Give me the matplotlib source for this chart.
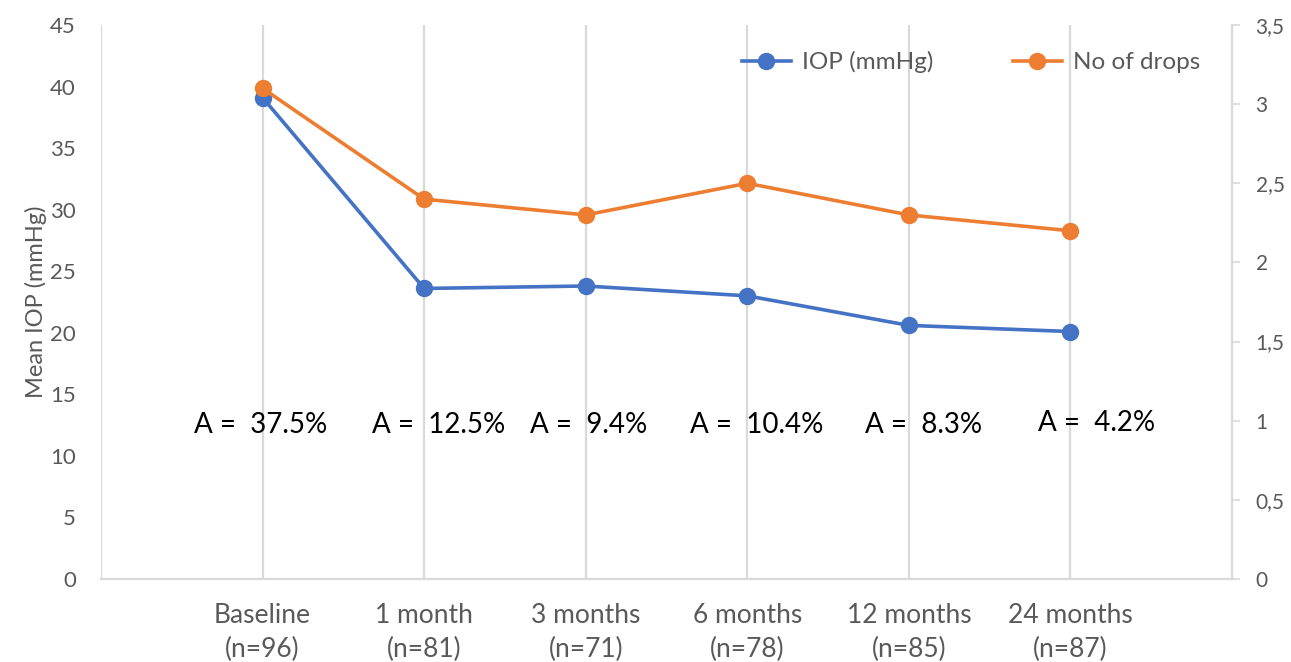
import matplotlib
matplotlib.use("Agg")
import matplotlib.pyplot as plt

categories = ["Baseline\n(n=96)", "1 month\n(n=81)", "3 months\n(n=71)",
              "6 months\n(n=78)", "12 months\n(n=85)", "24 months\n(n=87)"]
iop_mmhg = [39.1, 23.6, 23.8, 23.0, 20.6, 20.1]
no_of_drops = [3.1, 2.4, 2.3, 2.5, 2.3, 2.2]
a_labels = ["A =  37.5%", "A =  12.5%", "A =  9.4%", "A =  10.4%", "A =  8.3%", "A =  4.2%"]
a_offsets = [-0.01, 0.09, 0.02, 0.06, 0.09, 0.16]
a_heights = [12.5, 12.5, 12.5, 12.5, 12.5, 12.7]
left_ticks = list(range(0, 46, 5))
right_ticks = [0, 0.5, 1, 1.5, 2, 2.5, 3, 3.5]

plt.rcParams["font.family"] = ["Lato", "DejaVu Sans"]

W, H = 1291, 662
fig = plt.figure(figsize=(W / 100, H / 100), dpi=100)
ax = fig.add_axes([101 / W, 83 / H, (1232 - 101) / W, (579 - 25) / H])
ax2 = ax.twinx()

blue = "#4472C4"
orange = "#ED7D31"
grid_c = "#D9D9D9"
text_c = "#595959"

x = list(range(len(categories)))

ax.set_xlim(-1, len(categories))
ax.set_ylim(0, 45)
ax2.set_ylim(0, 3.5)

for xv in range(-1, len(categories)):
    ax.axvline(xv, color=grid_c, lw=1.6, zorder=0)

ln1, = ax.plot(x, iop_mmhg, color=blue, lw=2.6, marker="o", ms=11.5,
               label="IOP (mmHg)", zorder=3)
ln2, = ax2.plot(x, no_of_drops, color=orange, lw=2.6, marker="o", ms=11.5,
                label="No of drops", zorder=3)

for xi, lab, off, hy in zip(x, a_labels, a_offsets, a_heights):
    ax.text(xi + off, hy, lab, ha="center", va="center", fontsize=20,
            color="black", zorder=4)

for s in ["top", "left"]:
    ax.spines[s].set_visible(False)
    ax2.spines[s].set_visible(False)
ax.spines["right"].set_visible(False)
ax.spines["bottom"].set_color(grid_c)
ax.spines["bottom"].set_linewidth(1.6)
ax2.spines["bottom"].set_visible(False)
ax2.spines["right"].set_color(grid_c)
ax2.spines["right"].set_linewidth(1.6)

ax.set_yticks(left_ticks)
ax.set_yticklabels([str(t) for t in left_ticks])
ax.tick_params(axis="y", length=0, pad=18, labelsize=16, labelcolor=text_c)
ax.set_xticks(x)
ax.set_xticklabels(categories, linespacing=1.45)
ax.tick_params(axis="x", length=0, pad=17, labelsize=19, labelcolor=text_c)

ax2.set_yticks(right_ticks)
ax2.set_yticklabels([f"{t:g}".replace(".", ",") for t in right_ticks])
ax2.tick_params(axis="y", length=6, width=1.2, color=grid_c, pad=11,
                labelsize=15, labelcolor=text_c)

ax.set_ylabel("Mean IOP (mmHg)", fontsize=17, color=text_c, labelpad=2)

leg = ax.legend(handles=[ln1, ln2], loc="upper right", ncol=2, frameon=False,
                fontsize=17.5, labelcolor=text_c, handlelength=2.0,
                handletextpad=0.45, columnspacing=3.3,
                bbox_to_anchor=(0.991, 0.992))
leg.set_zorder(5)

fig.savefig("out.png", dpi=100)
